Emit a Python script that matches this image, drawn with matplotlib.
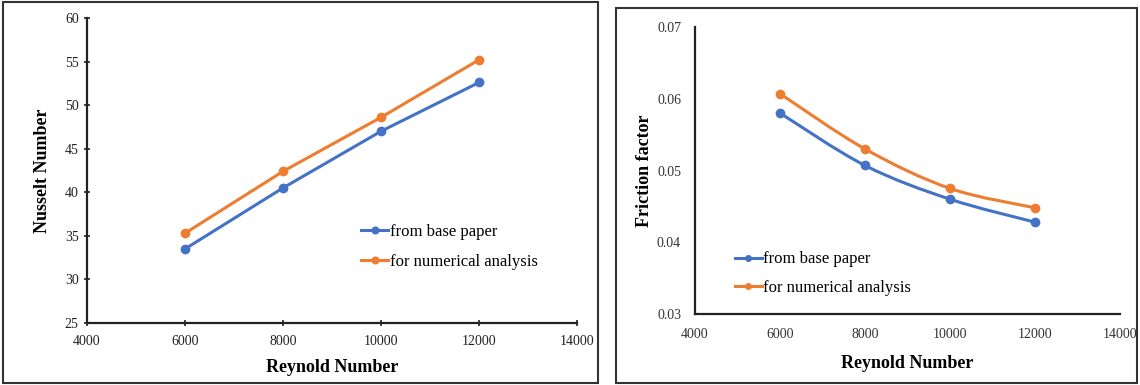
import numpy as np
import matplotlib.pyplot as plt
from matplotlib.path import Path
from matplotlib.patches import PathPatch, Rectangle

reynolds = [6000, 8000, 10000, 12000]
nu_base = [33.5, 40.5, 47.0, 52.6]
nu_num = [35.3, 42.4, 48.6, 55.2]
f_base = [0.0580, 0.0507, 0.0460, 0.0428]
f_num = [0.0607, 0.0530, 0.0475, 0.0448]
labels = ['from base paper', 'for numerical analysis']

blue = '#4472C4'
orange = '#ED7D31'

plt.rcParams['font.family'] = ['Liberation Serif', 'DejaVu Serif']

fig = plt.figure(figsize=(11.4, 3.85), dpi=100)

# panel frames
fig.patches.append(Rectangle((3 / 1140, 2 / 385), 595 / 1140, 381 / 385, transform=fig.transFigure,
                             fill=False, ec='#333333', lw=1.5))
fig.patches.append(Rectangle((616 / 1140, 2 / 385), 521 / 1140, 375 / 385, transform=fig.transFigure,
                             fill=False, ec='#333333', lw=1.5))


def smooth_curve(ax, x, y, color):
    # catmull-rom segments turned into bezier curves, like excel smoothed lines
    x = np.asarray(x, float)
    y = np.asarray(y, float)
    verts = [(x[0], y[0])]
    codes = [Path.MOVETO]
    n = len(x)
    for i in range(n - 1):
        p0 = (x[max(i - 1, 0)], y[max(i - 1, 0)])
        p1 = (x[i], y[i])
        p2 = (x[i + 1], y[i + 1])
        p3 = (x[min(i + 2, n - 1)], y[min(i + 2, n - 1)])
        c1 = (p1[0] + (p2[0] - p0[0]) / 6, p1[1] + (p2[1] - p0[1]) / 6)
        c2 = (p2[0] - (p3[0] - p1[0]) / 6, p2[1] - (p3[1] - p1[1]) / 6)
        verts += [c1, c2, p2]
        codes += [Path.CURVE4] * 3
    ax.add_patch(PathPatch(Path(verts, codes), fc='none', ec=color, lw=2.2))


def style(ax, pad):
    for s in ['top', 'right']:
        ax.spines[s].set_visible(False)
    for s in ['left', 'bottom']:
        ax.spines[s].set_linewidth(1.6)
        ax.spines[s].set_color('#222222')
    ax.set_xlim(4000, 14000)
    ax.set_xticks([4000, 6000, 8000, 10000, 12000, 14000])
    ax.set_xlabel('Reynold Number', fontsize=13, fontweight='bold', labelpad=pad)


# left: Nusselt number
ax1 = fig.add_axes([87 / 1140, 1 - 323 / 385, 490 / 1140, 305 / 385])
ax1.plot(reynolds, nu_base, '-o', color=blue, lw=2.2, ms=6, label=labels[0])
ax1.plot(reynolds, nu_num, '-o', color=orange, lw=2.2, ms=6, label=labels[1])
style(ax1, 8)
ax1.set_ylim(25, 60)
ax1.set_yticks(range(25, 61, 5))
ax1.tick_params(direction='inout', length=5, width=1.2, labelsize=10, colors='#222222')
ax1.tick_params(axis='x', pad=6)
ax1.set_ylabel('Nusselt Number', fontsize=13, fontweight='bold', labelpad=10)
ax1.legend(loc='upper left', bbox_to_anchor=(0.56, 0.325), frameon=False, fontsize=12,
           borderaxespad=0, borderpad=0, handlelength=1.6, handletextpad=0.1,
           labelspacing=0.85, markerscale=0.8)

# right: friction factor
ax2 = fig.add_axes([695 / 1140, 1 - 314 / 385, 425 / 1140, 287 / 385])
smooth_curve(ax2, reynolds, f_base, blue)
smooth_curve(ax2, reynolds, f_num, orange)
ax2.plot(reynolds, f_base, 'o', color=blue, ms=6)
ax2.plot(reynolds, f_num, 'o', color=orange, ms=6)
ax2.plot([], [], '-o', color=blue, lw=2.2, ms=5, label=labels[0])
ax2.plot([], [], '-o', color=orange, lw=2.2, ms=5, label=labels[1])
style(ax2, 10)
ax2.set_ylim(0.03, 0.07)
ax2.set_yticks([0.03, 0.04, 0.05, 0.06, 0.07])
ax2.set_yticklabels(['0.03', '0.04', '0.05', '0.06', '0.07'])
ax2.tick_params(length=0, pad=10, labelsize=10, colors='#333333')
ax2.set_ylabel('Friction factor', fontsize=13, fontweight='bold', labelpad=3)
ax2.legend(loc='upper left', bbox_to_anchor=(0.094, 0.218), frameon=False, fontsize=12,
           borderaxespad=0, borderpad=0, handlelength=1.6, handletextpad=0.1,
           labelspacing=0.75, markerscale=0.8)

fig.savefig('out.png', dpi=100)
